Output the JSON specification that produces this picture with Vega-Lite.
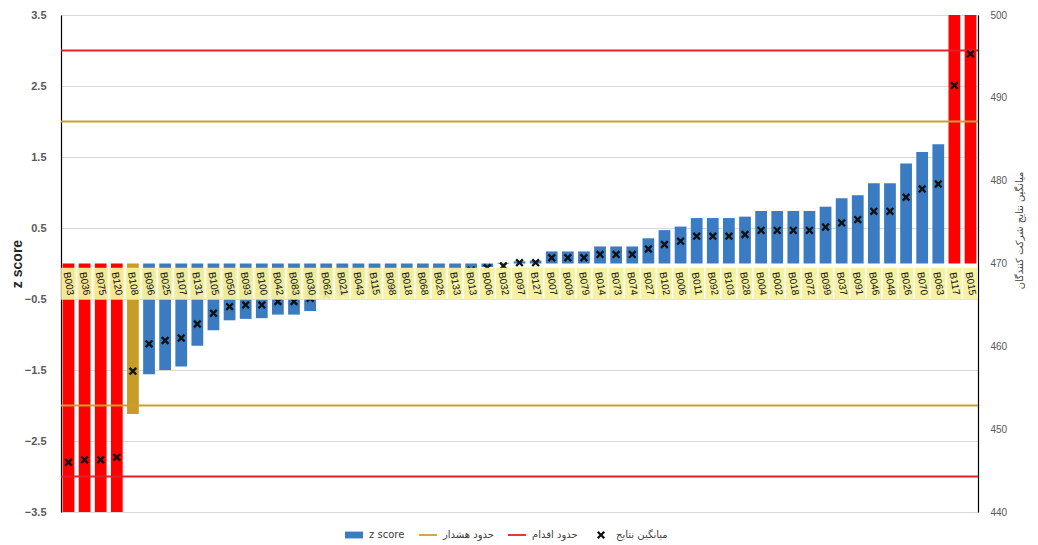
{
  "$schema": "https://vega.github.io/schema/vega-lite/v6.json",
  "width": 917,
  "height": 497,
  "autosize": {"type": "none"},
  "padding": {"left": 61, "top": 15, "right": 60, "bottom": 33},
  "background": "white",
  "config": {"view": {"stroke": null}},
  "datasets": {
    "rows": [
      {"i": 1, "lab": "B003", "z": -4.8, "m": 446.0, "st": "act"},
      {"i": 2, "lab": "B036", "z": -4.7, "m": 446.3, "st": "act"},
      {"i": 3, "lab": "B075", "z": -4.6, "m": 446.3, "st": "act"},
      {"i": 4, "lab": "B120", "z": -4.5, "m": 446.6, "st": "act"},
      {"i": 5, "lab": "B108", "z": -2.12, "m": 457.0, "st": "warn"},
      {"i": 6, "lab": "B096", "z": -1.56, "m": 460.3, "st": "ok"},
      {"i": 7, "lab": "B025", "z": -1.5, "m": 460.7, "st": "ok"},
      {"i": 8, "lab": "B107", "z": -1.45, "m": 461.0, "st": "ok"},
      {"i": 9, "lab": "B131", "z": -1.16, "m": 462.7, "st": "ok"},
      {"i": 10, "lab": "B105", "z": -0.94, "m": 464.0, "st": "ok"},
      {"i": 11, "lab": "B050", "z": -0.8, "m": 464.8, "st": "ok"},
      {"i": 12, "lab": "B093", "z": -0.78, "m": 465.0, "st": "ok"},
      {"i": 13, "lab": "B100", "z": -0.77, "m": 465.0, "st": "ok"},
      {"i": 14, "lab": "B042", "z": -0.72, "m": 465.4, "st": "ok"},
      {"i": 15, "lab": "B083", "z": -0.72, "m": 465.4, "st": "ok"},
      {"i": 16, "lab": "B030", "z": -0.67, "m": 465.8, "st": "ok"},
      {"i": 17, "lab": "B062", "z": -0.45, "m": 466.2, "st": "ok"},
      {"i": 18, "lab": "B021", "z": -0.42, "m": 466.5, "st": "ok"},
      {"i": 19, "lab": "B043", "z": -0.4, "m": 466.7, "st": "ok"},
      {"i": 20, "lab": "B115", "z": -0.37, "m": 466.9, "st": "ok"},
      {"i": 21, "lab": "B098", "z": -0.34, "m": 467.2, "st": "ok"},
      {"i": 22, "lab": "B018", "z": -0.3, "m": 467.5, "st": "ok"},
      {"i": 23, "lab": "B068", "z": -0.27, "m": 467.8, "st": "ok"},
      {"i": 24, "lab": "B026", "z": -0.23, "m": 468.2, "st": "ok"},
      {"i": 25, "lab": "B133", "z": -0.18, "m": 468.6, "st": "ok"},
      {"i": 26, "lab": "B013", "z": -0.1, "m": 469.2, "st": "ok"},
      {"i": 27, "lab": "B006", "z": -0.05, "m": 469.5, "st": "ok"},
      {"i": 28, "lab": "B032", "z": 0.01, "m": 469.7, "st": "ok"},
      {"i": 29, "lab": "B097", "z": 0.03, "m": 470.1, "st": "ok"},
      {"i": 30, "lab": "B127", "z": 0.04, "m": 470.1, "st": "ok"},
      {"i": 31, "lab": "B007", "z": 0.17, "m": 470.7, "st": "ok"},
      {"i": 32, "lab": "B009", "z": 0.17, "m": 470.7, "st": "ok"},
      {"i": 33, "lab": "B079", "z": 0.17, "m": 470.7, "st": "ok"},
      {"i": 34, "lab": "B014", "z": 0.24, "m": 471.1, "st": "ok"},
      {"i": 35, "lab": "B073", "z": 0.24, "m": 471.1, "st": "ok"},
      {"i": 36, "lab": "B074", "z": 0.24, "m": 471.1, "st": "ok"},
      {"i": 37, "lab": "B027", "z": 0.355, "m": 471.75, "st": "ok"},
      {"i": 38, "lab": "B102", "z": 0.47, "m": 472.3, "st": "ok"},
      {"i": 39, "lab": "B006", "z": 0.52, "m": 472.7, "st": "ok"},
      {"i": 40, "lab": "B011", "z": 0.64, "m": 473.3, "st": "ok"},
      {"i": 41, "lab": "B092", "z": 0.64, "m": 473.3, "st": "ok"},
      {"i": 42, "lab": "B103", "z": 0.64, "m": 473.3, "st": "ok"},
      {"i": 43, "lab": "B028", "z": 0.66, "m": 473.5, "st": "ok"},
      {"i": 44, "lab": "B004", "z": 0.74, "m": 474.0, "st": "ok"},
      {"i": 45, "lab": "B002", "z": 0.74, "m": 474.0, "st": "ok"},
      {"i": 46, "lab": "B018", "z": 0.74, "m": 474.0, "st": "ok"},
      {"i": 47, "lab": "B072", "z": 0.74, "m": 474.0, "st": "ok"},
      {"i": 48, "lab": "B099", "z": 0.8, "m": 474.4, "st": "ok"},
      {"i": 49, "lab": "B037", "z": 0.92, "m": 474.9, "st": "ok"},
      {"i": 50, "lab": "B091", "z": 0.96, "m": 475.3, "st": "ok"},
      {"i": 51, "lab": "B046", "z": 1.13, "m": 476.3, "st": "ok"},
      {"i": 52, "lab": "B048", "z": 1.13, "m": 476.3, "st": "ok"},
      {"i": 53, "lab": "B026", "z": 1.41, "m": 478.0, "st": "ok"},
      {"i": 54, "lab": "B070", "z": 1.57, "m": 479.0, "st": "ok"},
      {"i": 55, "lab": "B063", "z": 1.68, "m": 479.6, "st": "ok"},
      {"i": 56, "lab": "B117", "z": 4.2, "m": 491.5, "st": "act"},
      {"i": 57, "lab": "B015", "z": 4.6, "m": 495.3, "st": "act"}
    ],
    "limits": [
      {"v": 3, "kind": "act"},
      {"v": -3, "kind": "act"},
      {"v": 2, "kind": "warn"},
      {"v": -2, "kind": "warn"}
    ],
    "legendItems": [
      {"leg": "z score"},
      {"leg": "حدود هشدار"},
      {"leg": "حدود اقدام"},
      {"leg": "میانگین نتایج"}
    ]
  },
  "layer": [
    {
      "layer": [
        {
          "data": {"name": "rows"},
          "mark": {"type": "bar", "clip": true},
          "encoding": {
            "x": {"field": "i", "type": "ordinal", "axis": null, "scale": {"paddingInner": 0.27, "paddingOuter": 0.1}},
            "y": {
              "field": "z", "type": "quantitative",
              "scale": {"domain": [-3.5, 3.5], "nice": false, "zero": true},
              "axis": {
                "orient": "left", "values": [-3.5, -2.5, -1.5, -0.5, 0.5, 1.5, 2.5, 3.5], "format": ".1f",
                "grid": true, "gridColor": "#D9D9D9", "gridWidth": 1, "domainColor": "#000000", "domainWidth": 1.2,
                "ticks": false, "labelPadding": 15, "labelFont": "Liberation Sans", "labelFontSize": 11, "labelFontWeight": "bold",
                "labelColor": "#595959", "title": "z score", "titleFont": "Liberation Sans", "titleFontSize": 14,
                "titleFontWeight": "bold", "titleColor": "#262626", "titlePadding": 0
              }
            },
            "y2": {"datum": 0},
            "color": {
              "field": "st", "type": "nominal", "legend": null,
              "scale": {"domain": ["ok", "warn", "act"], "range": ["#3A7BC2", "#C89D27", "#FF0000"]}
            }
          }
        },
        {
          "data": {"name": "limits"},
          "mark": {"type": "rule", "strokeWidth": 2},
          "encoding": {
            "y": {"field": "v", "type": "quantitative", "scale": {"domain": [-3.5, 3.5], "nice": false}},
            "color": {
              "field": "kind", "type": "nominal", "legend": null,
              "scale": {"domain": ["warn", "act"], "range": ["#C9A030", "#E81D25"]}
            }
          }
        }
      ],
      "resolve": {"scale": {"color": "independent"}}
    },
    {
      "data": {"name": "rows"},
      "mark": {
        "type": "point", "filled": true, "opacity": 1, "size": 70, "color": "#111111",
        "shape": "M-1,-0.6L-0.6,-1L0,-0.4L0.6,-1L1,-0.6L0.4,0L1,0.6L0.6,1L0,0.4L-0.6,1L-1,0.6L-0.4,0Z"
      },
      "encoding": {
        "x": {"field": "i", "type": "ordinal", "axis": null},
        "y": {
          "field": "m", "type": "quantitative",
          "scale": {"domain": [440, 500], "nice": false, "zero": false},
          "axis": {
            "orient": "right", "values": [440, 450, 460, 470, 480, 490, 500], "grid": false,
            "domainColor": "#000000", "domainWidth": 1.2, "ticks": false, "labelPadding": 12,
            "labelFont": "Liberation Sans", "labelFontSize": 10, "labelColor": "#595959",
            "title": "میانگین نتایج شرکت کنندگان", "titleFont": "DejaVu Sans", "titleFontSize": 10,
            "titleFontWeight": "normal", "titleColor": "#404040", "titleAngle": -90, "titlePadding": 18, "titleY": 215
          }
        }
      }
    },
    {
      "layer": [
        {
          "data": {"name": "rows"},
          "mark": {"type": "bar", "color": "#F5F19E", "opacity": 0.95, "width": {"band": 1.25}},
          "encoding": {
            "x": {"field": "i", "type": "ordinal", "axis": null},
            "y": {"datum": -0.06, "type": "quantitative", "scale": {"domain": [-3.5, 3.5], "nice": false}, "axis": null},
            "y2": {"datum": -0.51}
          }
        },
        {
          "data": {"name": "rows"},
          "mark": {"type": "text", "angle": 80, "font": "Liberation Sans", "fontSize": 10, "color": "#111111", "baseline": "middle", "align": "center"},
          "encoding": {
            "x": {"field": "i", "type": "ordinal", "axis": null},
            "y": {"datum": -0.285, "type": "quantitative", "scale": {"domain": [-3.5, 3.5], "nice": false}, "axis": null},
            "text": {"field": "lab", "type": "nominal"}
          }
        }
      ]
    },
    {
      "data": {"name": "legendItems"},
      "mark": {"type": "point", "filled": true, "opacity": 0, "size": 324},
      "encoding": {
        "color": {
          "field": "leg", "type": "nominal", "title": null,
          "scale": {"domain": ["z score", "حدود هشدار", "حدود اقدام", "میانگین نتایج"], "range": ["#3A7BC2", "#C9A030", "#E81D25", "#111111"]},
          "legend": {
            "orient": "none", "direction": "horizontal", "legendX": 284, "legendY": 511,
            "symbolOpacity": 1, "symbolSize": 324, "symbolStrokeWidth": 0,
            "labelFont": "DejaVu Sans", "labelFontSize": 10, "labelColor": "#404040", "columnPadding": 14, "labelOffset": 6,
            "encode": {"symbols": {"update": {"opacity": {"value": 1}, "fillOpacity": {"value": 1}}}}
          }
        },
        "shape": {
          "field": "leg", "type": "nominal", "title": null,
          "scale": {
            "domain": ["z score", "حدود هشدار", "حدود اقدام", "میانگین نتایج"],
            "range": [
              "M-1,-0.38L1,-0.38L1,0.38L-1,0.38Z",
              "M-1,-0.1L1,-0.1L1,0.1L-1,0.1Z",
              "M-1,-0.1L1,-0.1L1,0.1L-1,0.1Z",
              "M-0.45,-0.27L-0.27,-0.45L0,-0.18L0.27,-0.45L0.45,-0.27L0.18,0L0.45,0.27L0.27,0.45L0,0.18L-0.27,0.45L-0.45,0.27L-0.18,0Z"
            ]
          }
        }
      }
    }
  ],
  "resolve": {"scale": {"y": "independent", "color": "independent", "shape": "independent"}}
}
